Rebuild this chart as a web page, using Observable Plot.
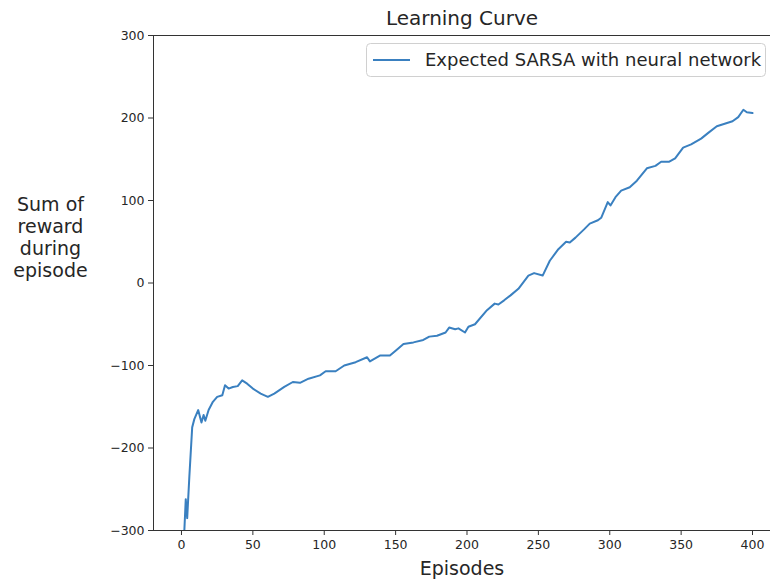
<!DOCTYPE html>
<html>
<head>
<meta charset="utf-8">
<script src="https://cdn.jsdelivr.net/npm/d3@7"></script>
<script src="https://cdn.jsdelivr.net/npm/@observablehq/plot@0.6"></script>
<style>
  html, body { margin: 0; padding: 0; background: #fff; }
  #chart { width: 770px; height: 581px; }
  svg { font-family: "DejaVu Sans", sans-serif; }
</style>
</head>
<body>
<div id="chart"></div>
<script>
const episodes = [2, 3, 4, 5.5, 7.5, 9, 11.7, 14, 15.5, 16.7, 19, 22, 25, 28.6, 30.5, 33, 36, 39.4, 42.5, 46,
  50, 55.5, 60.5, 65, 72, 78, 83, 89, 97, 101, 108, 114, 122, 130, 132, 139, 146, 150, 155.5, 162.5,
  169.4, 173.6, 179, 185, 187.5, 191.7, 194, 198.6, 201, 205.6, 214, 219.4, 222, 226, 230.5, 236, 243, 247, 253, 258,
  264, 269.4, 272, 276, 282, 286, 291.7, 294, 298.6, 300.5, 304, 308, 314, 319, 326, 332, 336, 341.7, 345.8, 351.4,
  357, 364, 369, 375, 380.5, 386, 390, 393.6, 396, 400];
const rewards = [-300, -262, -285, -235, -175, -165, -154, -169, -160, -167, -154, -144, -138, -136, -124, -128, -126, -125, -118, -122,
  -128, -134, -138, -134, -126, -120, -121, -116, -112, -107, -107, -100, -96, -90, -95, -88, -88, -82, -74, -72,
  -69, -65, -64, -60, -54, -56, -55, -60, -53, -50, -33, -25, -26, -21, -15, -7, 9, 12, 9, 27,
  41, 50, 49, 55, 65, 72, 76, 79, 98, 94, 104, 112, 116, 124, 139, 142, 147, 147, 151, 164,
  168, 175, 182, 190, 193, 196, 201, 210, 207, 206];
const xTicks = [0, 50, 100, 150, 200, 250, 300, 350, 400];
const yTicks = [-300, -200, -100, 0, 100, 200, 300];
const seriesName = "Expected SARSA with neural network";
const titleText = "Learning Curve";
const xLabel = "Episodes";
const yLabelLines = ["Sum of", "reward", "during", "episode"];

const data = episodes.map((e, i) => ({episode: e, reward: rewards[i]}));
const lineColor = "#3a80c0";
const textColor = "#262626";
const fmt = d3.format("d");

const xMin = -19.6, xMax = 412.6;

const plot = Plot.plot({
  width: 770,
  height: 581,
  marginLeft: 153,
  marginRight: 0,
  marginTop: 35,
  marginBottom: 51,
  style: {fontFamily: "DejaVu Sans, sans-serif", fontSize: "12px", color: textColor, background: "#fff"},
  x: {domain: [xMin, xMax], label: null},
  y: {domain: [-300, 300], label: null},
  marks: [
    Plot.axisX({ticks: xTicks, tickFormat: fmt, tickSize: 5, tickPadding: 5, label: null, fontSize: 12.5, stroke: "#333"}),
    Plot.axisY({ticks: yTicks, tickFormat: fmt, tickSize: 5, tickPadding: 4, label: null, fontSize: 12.5, stroke: "#333"}),
    Plot.line(data, {x: "episode", y: "reward", stroke: lineColor, strokeWidth: 2, clip: true}),
    Plot.ruleX([xMin], {stroke: "#333", strokeWidth: 1}),
    Plot.ruleY([-300, 300], {stroke: "#333", strokeWidth: 1}),
    Plot.text([titleText], {frameAnchor: "top", dy: -17, fontSize: 20, fill: textColor, lineAnchor: "middle"}),
    Plot.text([xLabel], {frameAnchor: "bottom", dy: 38, fontSize: 19, fill: textColor, lineAnchor: "middle"}),
    Plot.text([yLabelLines.join("\n")], {frameAnchor: "left", dx: -103, dy: -88, fontSize: 19, fill: textColor, lineAnchor: "top", lineHeight: 1.16, textAnchor: "middle"})
  ]
});

// legend
const svg = d3.select(plot);
const lg = svg.append("g").attr("text-anchor", "start");
lg.append("rect").attr("x", 366.5).attr("y", 43.5).attr("width", 399).attr("height", 33)
  .attr("rx", 4).attr("fill", "#fff").attr("fill-opacity", 0.8).attr("stroke", "#d0d0d0");
lg.append("line").attr("x1", 373).attr("x2", 410).attr("y1", 60).attr("y2", 60)
  .attr("stroke", lineColor).attr("stroke-width", 2);
lg.append("text").attr("x", 425).attr("y", 60).attr("dy", "0.35em").attr("text-anchor", "start")
  .attr("font-size", 18).attr("fill", textColor).text(seriesName);

document.getElementById("chart").appendChild(plot);
</script>
</body>
</html>
